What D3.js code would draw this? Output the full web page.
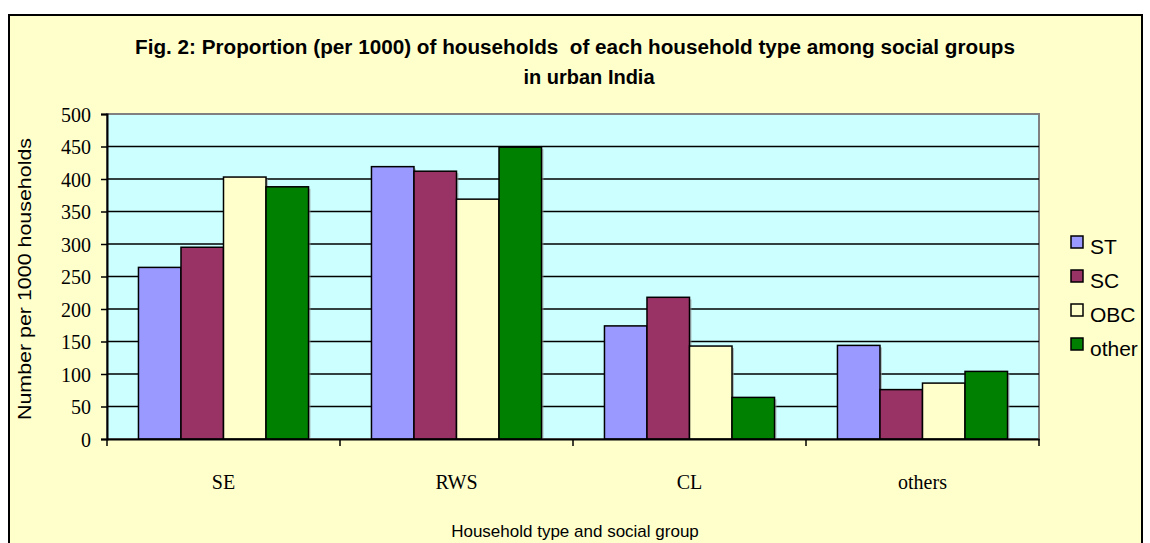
<!DOCTYPE html>
<html><head><meta charset="utf-8">
<script src="https://cdn.jsdelivr.net/npm/d3@7/dist/d3.min.js"></script>
<style>body{margin:0;background:#fff;} svg{display:block;}</style>
</head><body>
<svg id="chart" width="1150" height="543"></svg>
<script>
const categories = ["SE", "RWS", "CL", "others"];
const seriesNames = ["ST", "SC", "OBC", "other"];
const ST = [264, 419, 174, 144];
const SC = [295, 412, 218, 76];
const OBC = [403, 369, 143, 86];
const other = [388, 449, 64, 104];
const yTicks = [0, 50, 100, 150, 200, 250, 300, 350, 400, 450, 500];
const colors = ["#9999FF", "#993366", "#FFFFCC", "#008000"];
const seriesValues = [ST, SC, OBC, other];

const svg = d3.select("#chart");
const W = 1150, H = 543;
const plot = {left: 107, right: 1039, top: 114, bottom: 439};

svg.append("rect").attr("x", 0).attr("y", 0).attr("width", W).attr("height", H).attr("fill", "#fff");
svg.append("rect").attr("x", 9).attr("y", 15).attr("width", 1133).attr("height", 560)
  .attr("fill", "#FFFFCC").attr("stroke", "#000").attr("stroke-width", 2);

const x0 = d3.scaleBand().domain(categories).range([plot.left, plot.right]).padding(0);
const x1 = d3.scaleBand().domain(seriesNames).range([0, x0.bandwidth()]).paddingInner(0).paddingOuter(0.74);
const y = d3.scaleLinear().domain([0, 500]).range([plot.bottom, plot.top]);

svg.append("rect").attr("x", plot.left).attr("y", plot.top)
  .attr("width", plot.right - plot.left).attr("height", plot.bottom - plot.top)
  .attr("fill", "#CCFFFF").attr("stroke", "#808080").attr("stroke-width", 2);

svg.append("g").selectAll("line").data(yTicks.filter(d => d > 0 && d < 500)).join("line")
  .attr("x1", plot.left).attr("x2", plot.right)
  .attr("y1", d => y(d)).attr("y2", d => y(d))
  .attr("stroke", "#000").attr("stroke-width", 1.5);

const data = [];
categories.forEach((c, i) => seriesNames.forEach((s, j) => data.push({c, s, v: seriesValues[j][i], color: colors[j]})));
const bars = svg.append("g");
bars.selectAll("rect.sh").data(data).join("rect").attr("class", "sh")
  .attr("x", d => x0(d.c) + x1(d.s) + 2).attr("y", d => y(d.v) + 2)
  .attr("width", x1.bandwidth()).attr("height", d => y(0) - y(d.v) - 2)
  .attr("fill", "#999").attr("opacity", 0.6);
bars.selectAll("rect.b").data(data).join("rect").attr("class", "b")
  .attr("x", d => x0(d.c) + x1(d.s)).attr("y", d => y(d.v))
  .attr("width", x1.bandwidth()).attr("height", d => y(0) - y(d.v))
  .attr("fill", d => d.color).attr("stroke", "#000").attr("stroke-width", 1.5);

const yAxis = svg.append("g").attr("transform", `translate(${plot.left},0)`)
  .call(d3.axisLeft(y).tickValues(yTicks).tickSize(6).tickPadding(10));
yAxis.select(".domain").attr("stroke", "#000").attr("stroke-width", 2);
yAxis.selectAll(".tick line").attr("stroke", "#000").attr("stroke-width", 1.5);
yAxis.selectAll(".tick text").attr("font-family", "'Liberation Serif','Times New Roman',serif")
  .attr("font-size", 20).attr("fill", "#000").attr("dy", "0.35em");

const xAxis = svg.append("g").attr("transform", `translate(0,${plot.bottom})`)
  .call(d3.axisBottom(x0).tickSize(0).tickPadding(36));
xAxis.select(".domain").attr("stroke", "#000").attr("stroke-width", 2);
xAxis.selectAll(".tick text").attr("font-family", "'Liberation Serif','Times New Roman',serif")
  .attr("font-size", 20).attr("fill", "#000");
const bounds = categories.map(c => x0(c)).concat([x0(categories[categories.length - 1]) + x0.bandwidth()]);
svg.append("g").selectAll("line").data(bounds).join("line")
  .attr("x1", d => d).attr("x2", d => d).attr("y1", plot.bottom).attr("y2", plot.bottom + 7)
  .attr("stroke", "#000").attr("stroke-width", 1.5);

const tf = "'Liberation Sans', Arial, sans-serif";
svg.append("text").attr("x", 575).attr("y", 54).attr("text-anchor", "middle")
  .attr("font-family", tf).attr("font-weight", "bold").attr("font-size", 20)
  .text("Fig. 2: Proportion (per 1000) of households  of each household type among social groups")
  .attr("textLength", 880).attr("lengthAdjust", "spacingAndGlyphs").style("white-space", "pre");
svg.append("text").attr("x", 589).attr("y", 84).attr("text-anchor", "middle")
  .attr("font-family", tf).attr("font-weight", "bold").attr("font-size", 20)
  .text("in urban India");

svg.append("text").attr("transform", "translate(31,279) rotate(-90)").attr("text-anchor", "middle")
  .attr("font-family", tf).attr("font-size", 19).text("Number per 1000 households")
  .attr("textLength", 282).attr("lengthAdjust", "spacingAndGlyphs");
svg.append("text").attr("x", 575).attr("y", 537).attr("text-anchor", "middle")
  .attr("font-family", tf).attr("font-size", 17).text("Household type and social group");

const leg = svg.append("g");
seriesNames.forEach((s, i) => {
  const g = leg.append("g").attr("transform", `translate(1071,${236 + i * 34})`);
  g.append("rect").attr("width", 12).attr("height", 12).attr("fill", colors[i]).attr("stroke", "#000").attr("stroke-width", 1.5);
  g.append("text").attr("x", 19).attr("y", 18).attr("font-family", tf).attr("font-size", 21).text(s);
});
</script>
</body></html>
